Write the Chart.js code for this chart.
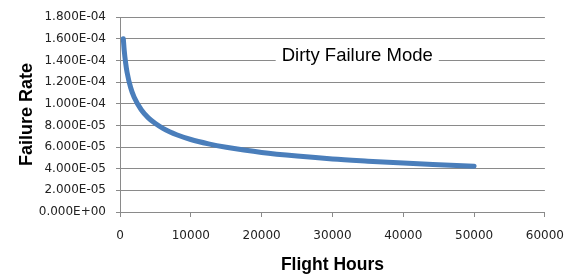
<!DOCTYPE html>
<html>
<head>
<meta charset="utf-8">
<script src="https://cdn.jsdelivr.net/npm/chart.js@4/dist/chart.umd.min.js"></script>
<style>
  html, body { margin: 0; padding: 0; background: #fff; }
  #wrap { width: 576px; height: 274px; }
</style>
</head>
<body>
<div id="wrap"><canvas id="Graph"></canvas></div>
<script>
// values
var flightHours = [470, 600, 800, 1000, 1500, 2000, 3000, 4000, 5000, 6000, 7000, 8000,
                   10000, 12500, 15000, 17500, 20000, 25000, 30000, 35000, 40000, 45000, 50000];
var failureRate = [1.60e-4, 1.49e-4, 1.375e-4, 1.29e-4, 1.15e-4, 1.06e-4, 9.45e-5, 8.7e-5, 8.17e-5, 7.75e-5, 7.42e-5, 7.14e-5,
                   6.7e-5, 6.3e-5, 5.98e-5, 5.72e-5, 5.5e-5, 5.17e-5, 4.9e-5, 4.7e-5, 4.52e-5, 4.37e-5, 4.23e-5];
var yTickLabels = ["0.000E+00", "2.000E-05", "4.000E-05", "6.000E-05", "8.000E-05", "1.000E-04",
                   "1.200E-04", "1.400E-04", "1.600E-04", "1.800E-04"];
var xTickLabels = ["0", "10000", "20000", "30000", "40000", "50000", "60000"];
var chartTitle = "Dirty Failure Mode";

var points = [];
for (var i = 0; i < flightHours.length; i++) {
    points.push({x: flightHours[i], y: failureRate[i]});
}

// title sits inside the plot, on a white patch over the gridline
var innerTitle = {
    id: "innerTitle",
    afterDatasetsDraw: function(chart) {
        var ctx = chart.ctx;
        var xs = chart.scales.x, ys = chart.scales.y;
        var cx = xs.getPixelForValue(33500);
        var base = ys.getPixelForValue(1.394e-4);
        ctx.save();
        ctx.font = "18.5px 'Liberation Sans', Arial, sans-serif";
        var w = ctx.measureText(chartTitle).width;
        ctx.fillStyle = "#fff";
        ctx.fillRect(cx - w / 2 - 6, base - 16, w + 12, 22);
        ctx.fillStyle = "#000";
        ctx.textAlign = "center";
        ctx.textBaseline = "alphabetic";
        ctx.fillText(chartTitle, cx, base);
        ctx.restore();
    }
};

var tickFont = {family: "'DejaVu Sans', Verdana, sans-serif", size: 12};

var chart = new Chart("Graph", {
    type: "line",
    data: {
        datasets: [{
            data: points,
            borderColor: "#4a7ebb",
            backgroundColor: "#4a7ebb",
            borderWidth: 5,
            borderCapStyle: "round",
            pointRadius: 0,
            fill: false,
            cubicInterpolationMode: "monotone"
        }]
    },
    options: {
        responsive: true,
        maintainAspectRatio: false,
        animation: false,
        layout: {padding: {top: 17, right: 30, left: 0, bottom: 0}},
        plugins: {
            legend: {display: false},
            tooltip: {enabled: false}
        },
        scales: {
            x: {
                type: "linear",
                min: 0,
                max: 60000,
                ticks: {
                    stepSize: 10000,
                    padding: 12,
                    color: "#222",
                    font: tickFont,
                    maxRotation: 0,
                    callback: function(v, i) { return xTickLabels[i]; }
                },
                grid: {drawOnChartArea: false, drawTicks: true, tickLength: 5, color: "#8a8a8a"},
                border: {display: true, color: "#8a8a8a"},
                title: {
                    display: true,
                    text: "Flight Hours",
                    color: "#000",
                    font: {family: "'Liberation Sans', Arial, sans-serif", size: 17.5, weight: "bold", lineHeight: 1},
                    padding: {top: 0, bottom: 0}
                },
                afterFit: function(s) { s.height = 62; }
            },
            y: {
                min: 0,
                max: 1.8e-4,
                ticks: {
                    stepSize: 2e-5,
                    padding: 10,
                    color: "#222",
                    font: tickFont,
                    callback: function(v, i) { return yTickLabels[i]; }
                },
                grid: {color: "#8a8a8a", tickLength: 4, drawTicks: true},
                border: {display: true, color: "#8a8a8a"},
                title: {
                    display: true,
                    text: "Failure Rate",
                    color: "#000",
                    font: {family: "'Liberation Sans', Arial, sans-serif", size: 18, weight: "bold", lineHeight: 1},
                    padding: {top: 18, bottom: 0}
                },
                afterFit: function(s) { s.width = 120; }
            }
        }
    },
    plugins: [innerTitle]
});
</script>
</body>
</html>
